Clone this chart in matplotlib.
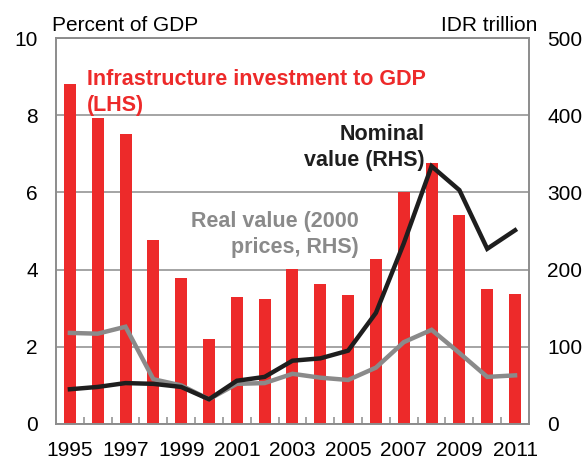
import matplotlib.pyplot as plt
from matplotlib.ticker import FixedLocator
import numpy as np

plt.rcParams['font.family'] = ['Liberation Sans', 'DejaVu Sans']

# Data
years = list(range(1995, 2012))
invest_gdp = [8.81, 7.93, 7.51, 4.77, 3.78, 2.20, 3.29, 3.24, 4.02, 3.63,
              3.34, 4.27, 6.01, 6.76, 5.41, 3.50, 3.37]
nominal = [45, 48, 53, 52, 48, 32, 56, 61, 82, 85, 95, 144, 234, 334, 303, 227, 251]
real = [118, 117, 126, 58, 50, 32, 52, 53, 65, 60, 57, 73, 106, 122, 92, 61, 63]
tick_years = [1995, 1997, 1999, 2001, 2003, 2005, 2007, 2009, 2011]

RED = '#ed2a2a'
GRAY = '#8a8a8a'
BLACK = '#1e1e1e'
FRAME = '#8c8c8c'
FS = 15

fig = plt.figure(figsize=(5.85, 4.59), dpi=100)
ax = fig.add_axes([0.0957, 0.0763, 0.8085, 0.8407])
ax2 = ax.twinx()

x = np.arange(len(years))
ax.bar(x, invest_gdp, width=0.43, color=RED, zorder=2)
ax.set_ylim(0, 10)
ax.set_xlim(-0.5, len(years) - 0.5)
ax.set_yticks([0, 2, 4, 6, 8, 10])
ax.yaxis.grid(True, color=FRAME, lw=1.1, zorder=0)
ax.set_axisbelow(True)

ax2.plot(x, real, color=GRAY, lw=3.2, solid_joinstyle='miter', zorder=3)
ax2.plot(x, nominal, color=BLACK, lw=3.2, solid_joinstyle='miter', zorder=4)
ax2.set_ylim(0, 500)
ax2.set_yticks([0, 100, 200, 300, 400, 500])

ax.set_xticks([years.index(y) for y in tick_years])
ax.set_xticklabels([str(y) for y in tick_years])
ax.xaxis.set_minor_locator(FixedLocator(np.arange(0.5, len(years) - 1, 1)))

for a in (ax, ax2):
    for s in a.spines.values():
        s.set_color(FRAME)
        s.set_linewidth(1.2)
    a.tick_params(axis='y', length=0, labelsize=FS, pad=13, colors='black')
ax.tick_params(axis='x', which='major', length=0, labelsize=FS, pad=12)
ax.tick_params(axis='x', which='minor', direction='in', length=5, color=FRAME, width=1.1)

fig.text(0.089, 0.933, 'Percent of GDP', fontsize=FS, ha='left', va='baseline')
fig.text(0.918, 0.933, 'IDR trillion', fontsize=FS, ha='right', va='baseline')

ax.text(0.6, 9.2, 'Infrastructure investment to GDP\n(LHS)', color=RED,
        fontsize=15.5, fontweight='bold', ha='left', va='top', linespacing=1.3)
ax2.text(12.75, 389, 'Nominal\nvalue (RHS)', color=BLACK, fontsize=15.5,
         fontweight='bold', ha='right', va='top', linespacing=1.3, multialignment='right')
ax2.text(10.38, 276, 'Real value (2000\nprices, RHS)', color=GRAY, fontsize=15.5,
         fontweight='bold', ha='right', va='top', linespacing=1.3, multialignment='right')

fig.savefig('out.png', dpi=100)
